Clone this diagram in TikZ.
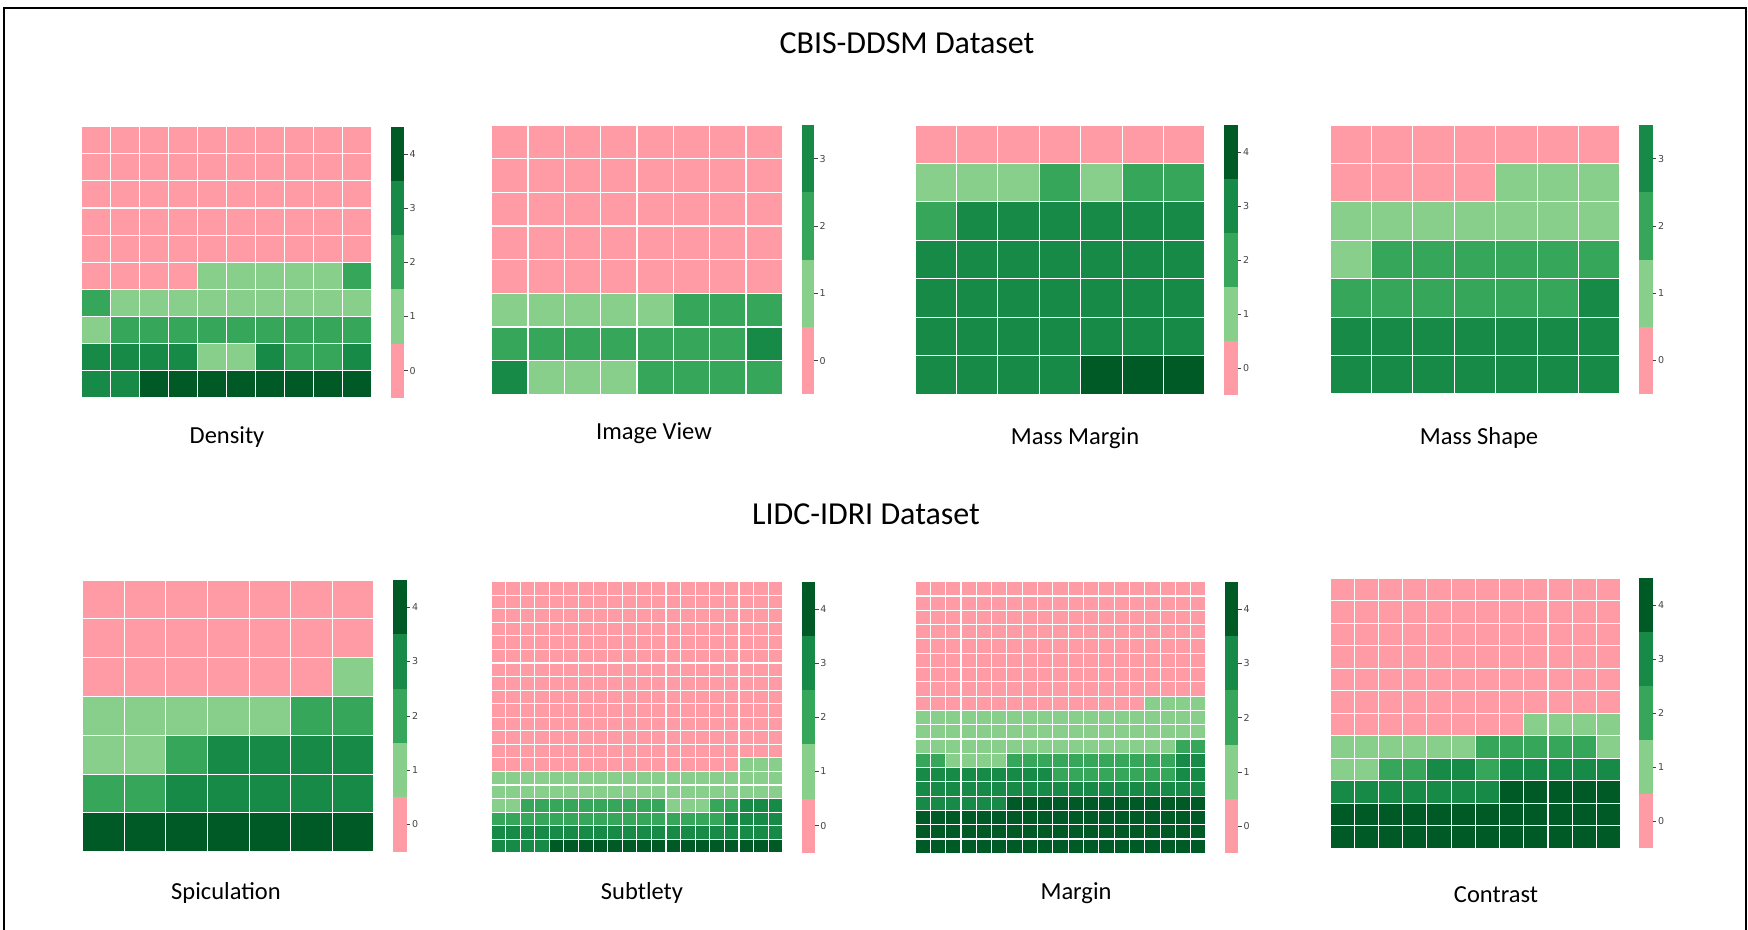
\documentclass[tikz,border=0pt]{standalone}
\usepackage{fontspec}
\setmainfont{Carlito}
\newfontfamily\tickfont{DejaVu Sans}
\definecolor{c0}{HTML}{FF9BA5}
\definecolor{c1}{HTML}{89CF8C}
\definecolor{c2}{HTML}{36A65A}
\definecolor{c3}{HTML}{188A47}
\definecolor{c4}{HTML}{005A26}
\definecolor{tickgray}{HTML}{444444}
\tikzset{
  gridline/.style={white,line width=1.1pt},
  tickmark/.style={tickgray,line width=0.6pt},
  ticklabel/.style={font=\tickfont\fontsize{9.5}{11}\selectfont,text=tickgray,inner sep=1.5pt},
  titletext/.style={font=\fontsize{32}{37}\selectfont,anchor=base},
  labeltext/.style={font=\fontsize{24.5}{28}\selectfont,anchor=base}
}
% #1 x0, #2 y0, #3 x1, #4 y1, #5 ncols, #6 nrows, #7 first listed row, #8 rows
\newcommand{\heatgrid}[8]{%
  \pgfmathsetmacro\gcw{(#3-#1)/#5}%
  \pgfmathsetmacro\gch{(#4-#2)/#6}%
  \fill[c0] (#1,#2) rectangle (#3,#4);%
  \foreach \grow [count=\gr from #7] in {#8}{%
    \foreach \gv [count=\gc from 0] in \grow{%
      \ifnum\gv>0
        \fill[c\gv] ({#1+\gc*\gcw},{#2+(\gr-1)*\gch}) rectangle ({#1+(\gc+1)*\gcw},{#2+\gr*\gch});%
      \fi}}%
  \foreach \gi in {0,...,#5}{\draw[gridline] ({#1+\gi*\gcw},#2) -- ({#1+\gi*\gcw},#4);}%
  \foreach \gi in {0,...,#6}{\draw[gridline] (#1,{#2+\gi*\gch}) -- (#3,{#2+\gi*\gch});}%
}
% #1 x0, #2 y0, #3 x1, #4 y1, #5 number of colours
\newcommand{\cbar}[5]{%
  \pgfmathsetmacro\cbh{(#4-#2)/#5}%
  \pgfmathtruncatemacro\cbn{#5-1}%
  \foreach \k in {0,...,\cbn}{%
    \fill[c\k] (#1,{#4-(\k+1)*\cbh-0.2}) rectangle (#3,{#4-\k*\cbh});%
    \draw[tickmark] (#3,{#4-(\k+0.5)*\cbh}) -- ++(3.5,0) node[ticklabel,anchor=west]{\k};}%
}
\begin{document}
\begin{tikzpicture}[x=1pt,y=-1pt]
\useasboundingbox (0,0) rectangle (1748,929);
\fill[white] (0,0) rectangle (1748,929);
\draw[line width=2pt] (3.5,935) -- (3.5,7.5) -- (1745.5,7.5) -- (1745.5,935);

% titles
\node[titletext] (cbis) at (907,53) {CBIS-DDSM Dataset};
\node[titletext] (lidc) at (866,524) {LIDC-IDRI Dataset};

% Density
\heatgrid{81.7}{126.7}{371.7}{397.7}{10}{10}{6}{
 {0,0,0,0,1,1,1,1,1,2},
 {2,1,1,1,1,1,1,1,1,1},
 {1,2,2,2,2,2,2,2,2,2},
 {3,3,3,3,1,1,3,2,2,3},
 {3,3,4,4,4,4,4,4,4,4}}
\cbar{391}{126.7}{404.3}{397.7}{5}
\node[labeltext] (density) at (227,443) {Density};

% Image View
\heatgrid{491.7}{125}{782.3}{394.3}{8}{8}{6}{
 {1,1,1,1,1,2,2,2},
 {2,2,2,2,2,2,2,3},
 {3,1,1,1,2,2,2,2}}
\cbar{801.7}{125}{814.3}{394.3}{4}
\node[labeltext] (imageview) at (654,439) {Image View};

% Mass Margin
\heatgrid{915}{125}{1205}{394.3}{7}{7}{2}{
 {1,1,1,2,1,2,2},
 {2,3,3,3,3,3,3},
 {3,3,3,3,3,3,3},
 {3,3,3,3,3,3,3},
 {3,3,3,3,3,3,3},
 {3,3,3,3,4,4,4}}
\cbar{1224.3}{125}{1237.7}{395}{5}
\node[labeltext] (massmargin) at (1075,444) {Mass Margin};

% Mass Shape
\heatgrid{1330}{125}{1620}{394}{7}{7}{2}{
 {0,0,0,0,1,1,1},
 {1,1,1,1,1,1,1},
 {1,2,2,2,2,2,2},
 {2,2,2,2,2,2,3},
 {3,3,3,3,3,3,3},
 {3,3,3,3,3,3,3}}
\cbar{1639.3}{125}{1652.7}{394}{4}
\node[labeltext] (massshape) at (1479,444) {Mass Shape};

% Spiculation
\heatgrid{82.7}{580}{374}{851.7}{7}{7}{3}{
 {0,0,0,0,0,0,1},
 {1,1,1,1,1,2,2},
 {1,1,2,3,3,3,3},
 {2,2,3,3,3,3,3},
 {4,4,4,4,4,4,4}}
\cbar{393.3}{580}{406.7}{851.7}{5}
\node[labeltext] (spiculation) at (226,899) {Spiculation};

% Subtlety
\heatgrid{491}{581.7}{782.7}{852.7}{20}{20}{14}{
 {0,0,0,0,0,0,0,0,0,0,0,0,0,0,0,0,0,1,1,1},
 {1,1,1,1,1,1,1,1,1,1,1,1,1,1,1,1,1,1,1,1},
 {1,1,1,1,1,1,1,1,1,1,1,1,1,1,1,1,1,1,1,1},
 {1,1,2,2,2,2,2,2,2,2,2,2,1,1,1,2,2,3,3,3},
 {2,2,2,2,2,2,2,2,2,2,2,2,2,2,2,2,3,3,3,3},
 {3,3,3,3,3,3,3,3,3,3,3,3,3,3,3,3,3,3,3,3},
 {3,3,3,3,4,4,4,4,4,4,4,4,4,4,4,4,4,4,4,4}}
\cbar{801.7}{581.7}{815}{852.7}{5}
\node[labeltext] (subtlety) at (642,899) {Subtlety};

% Margin
\heatgrid{915}{581.7}{1206}{853.3}{19}{19}{9}{
 {0,0,0,0,0,0,0,0,0,0,0,0,0,0,0,1,1,1,1},
 {1,1,1,1,1,1,1,1,1,1,1,1,1,1,1,1,1,1,1},
 {1,1,1,1,1,1,1,1,1,1,1,1,1,1,1,1,1,1,1},
 {1,1,1,1,1,1,1,1,1,1,1,1,1,1,1,1,1,2,2},
 {2,2,1,1,1,1,2,2,2,2,2,2,2,2,2,2,2,3,3},
 {3,3,3,3,3,3,3,3,3,2,2,2,2,2,2,2,2,3,3},
 {3,3,3,3,3,3,3,3,3,3,3,3,3,3,3,3,3,3,3},
 {3,3,3,3,3,3,4,4,4,4,4,4,4,4,4,4,4,4,4},
 {4,4,4,4,4,4,4,4,4,4,4,4,4,4,4,4,4,4,4},
 {4,4,4,4,4,4,4,4,4,4,4,4,4,4,4,4,4,4,4},
 {4,4,4,4,4,4,4,4,4,4,4,4,4,4,4,4,4,4,4}}
\cbar{1225}{581.7}{1238.3}{853.3}{5}
\node[labeltext] (margin) at (1076,899) {Margin};

% Contrast
\heatgrid{1330}{578.3}{1620.7}{848.3}{12}{12}{7}{
 {0,0,0,0,0,0,0,0,1,1,1,1},
 {1,1,1,1,1,1,2,2,2,2,2,1},
 {1,1,2,2,3,3,2,3,3,3,3,3},
 {3,3,3,3,3,3,3,4,4,4,4,4},
 {4,4,4,4,4,4,4,4,4,4,4,4},
 {4,4,4,4,4,4,4,4,4,4,4,4}}
\cbar{1639.3}{578.3}{1652.7}{848.3}{5}
\node[labeltext] (contrast) at (1496,902) {Contrast};
\end{tikzpicture}
\end{document}
